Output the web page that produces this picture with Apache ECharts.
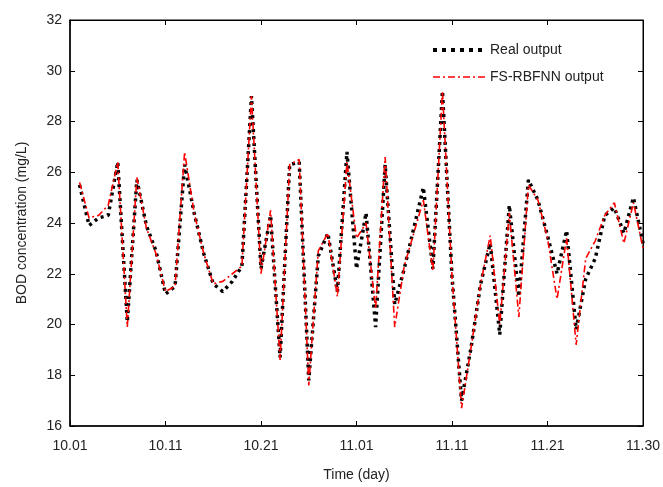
<!DOCTYPE html>
<html>
<head>
<meta charset="utf-8">
<script src="https://cdn.jsdelivr.net/npm/echarts@6/dist/echarts.min.js"></script>
<style>
  html, body { margin: 0; padding: 0; background: #fff; }
  #chart { width: 663px; height: 487px; }
</style>
</head>
<body>
<div id="chart"></div>
<script>
// Tick labels on the time axis (positions 0,10,...,60 in day index)
const xTickLabels = ['10.01', '10.11', '10.21', '11.01', '11.11', '11.21', '11.30'];
// Day index of each sample
const dayIndex = [1,2,3,4,5,6,7,8,9,10,11,12,13,14,15,16,17,18,19,20,
                  21,22,23,24,25,26,27,28,29,30,31,32,33,34,35,36,37,38,39,40,
                  41,42,43,44,45,46,47,48,49,50,51,52,53,54,55,56,57,58,59,60];
// Real output (mg/L)
const realOutput = [25.5,23.9,24.2,24.3,26.4,20.1,25.7,23.9,22.9,21.2,
                    21.5,26.3,24.4,22.8,21.6,21.3,21.7,22.3,29.0,22.2,
                    24.3,18.7,26.3,26.4,17.8,22.7,23.6,21.3,26.8,22.2,
                    24.4,19.9,26.3,20.8,22.2,23.8,25.4,22.2,29.2,21.9,
                    17.0,19.1,21.6,23.2,19.6,24.7,21.1,25.7,24.9,23.5,
                    22.0,23.7,19.8,21.8,22.6,24.3,24.6,23.6,25.0,23.2];
// FS-RBFNN output (mg/L)
const fsOutput = [25.6,24.2,24.3,24.7,26.4,19.9,25.8,23.8,22.8,21.3,
                  21.5,26.8,24.4,22.8,21.6,21.7,22.0,22.3,29.0,22.0,
                  24.5,18.6,26.3,26.5,17.6,22.9,23.6,21.1,26.4,23.4,
                  24.0,20.6,26.6,19.9,22.3,23.6,24.9,22.1,29.2,21.9,
                  16.7,19.1,21.6,23.5,20.0,24.4,20.3,25.5,24.9,23.4,
                  21.0,23.4,19.2,22.6,23.3,24.3,24.8,23.2,24.8,23.0];

const realPairs = dayIndex.map((d, i) => [d, realOutput[i]]);
const fsPairs = dayIndex.map((d, i) => [d, fsOutput[i]]);

const FONT = 'Liberation Sans, Arial, Helvetica, sans-serif';
const chart = echarts.init(document.getElementById('chart'), null, { renderer: 'canvas' });

const tickStyle = { inside: true, length: 5, lineStyle: { color: '#000', width: 1 } };

chart.setOption({
  animation: false,
  backgroundColor: '#fff',
  grid: { left: 70, right: 18, top: 20, bottom: 55, show: true, borderColor: '#000', borderWidth: 1, backgroundColor: 'transparent' },
  legend: {
    orient: 'vertical',
    left: 426,
    top: 38,
    itemWidth: 52,
    itemHeight: 14,
    itemGap: 13,
    itemStyle: { opacity: 0 },
    textStyle: { fontFamily: FONT, fontSize: 14, color: '#222' },
    data: [
      { name: 'Real output', lineStyle: { width: 4, type: [4, 5], color: '#000' } },
      { name: 'FS-RBFNN output', lineStyle: { width: 1.6, type: [7, 3, 2, 3], color: '#ff0000' } }
    ]
  },
  xAxis: [{
    type: 'value', min: 0, max: 60, interval: 10, position: 'bottom',
    name: 'Time (day)', nameLocation: 'middle', nameGap: 42,
    nameTextStyle: { fontFamily: FONT, fontSize: 14, color: '#222' },
    axisLine: { show: true, onZero: false, lineStyle: { color: '#000', width: 1.5 } },
    axisTick: tickStyle,
    axisLabel: { margin: 13, fontFamily: FONT, fontSize: 14, color: '#222',
      formatter: v => xTickLabels[Math.round(v / 10)] },
    splitLine: { show: false }
  }, {
    type: 'value', min: 0, max: 60, interval: 10, position: 'top',
    axisLine: { show: true, onZero: false, lineStyle: { color: '#000', width: 1 } },
    axisTick: tickStyle, axisLabel: { show: false }, splitLine: { show: false }
  }],
  yAxis: [{
    type: 'value', min: 16, max: 32, interval: 2, position: 'left',
    name: 'BOD concentration (mg/L)', nameLocation: 'middle', nameGap: 41,
    nameTextStyle: { fontFamily: FONT, fontSize: 14, color: '#222' },
    axisLine: { show: true, onZero: false, lineStyle: { color: '#000', width: 1.5 } },
    axisTick: tickStyle,
    axisLabel: { margin: 8, fontFamily: FONT, fontSize: 14, color: '#222' },
    splitLine: { show: false }
  }, {
    type: 'value', min: 16, max: 32, interval: 2, position: 'right',
    axisLine: { show: true, onZero: false, lineStyle: { color: '#000', width: 1 } },
    axisTick: tickStyle, axisLabel: { show: false }, splitLine: { show: false }
  }],
  series: [{
    name: 'Real output', type: 'line', data: realPairs, showSymbol: false, symbol: 'none',
    z: 2,
    itemStyle: { color: '#000' },
    lineStyle: { color: '#000', width: 3.5, type: [3, 4], cap: 'butt' }
  }, {
    name: 'FS-RBFNN output', type: 'line', data: fsPairs, showSymbol: false, symbol: 'none',
    z: 3,
    itemStyle: { color: '#ff0000' },
    lineStyle: { color: '#ff0000', width: 1.6, type: [7, 3, 2, 3] }
  }]
});
</script>
</body>
</html>
